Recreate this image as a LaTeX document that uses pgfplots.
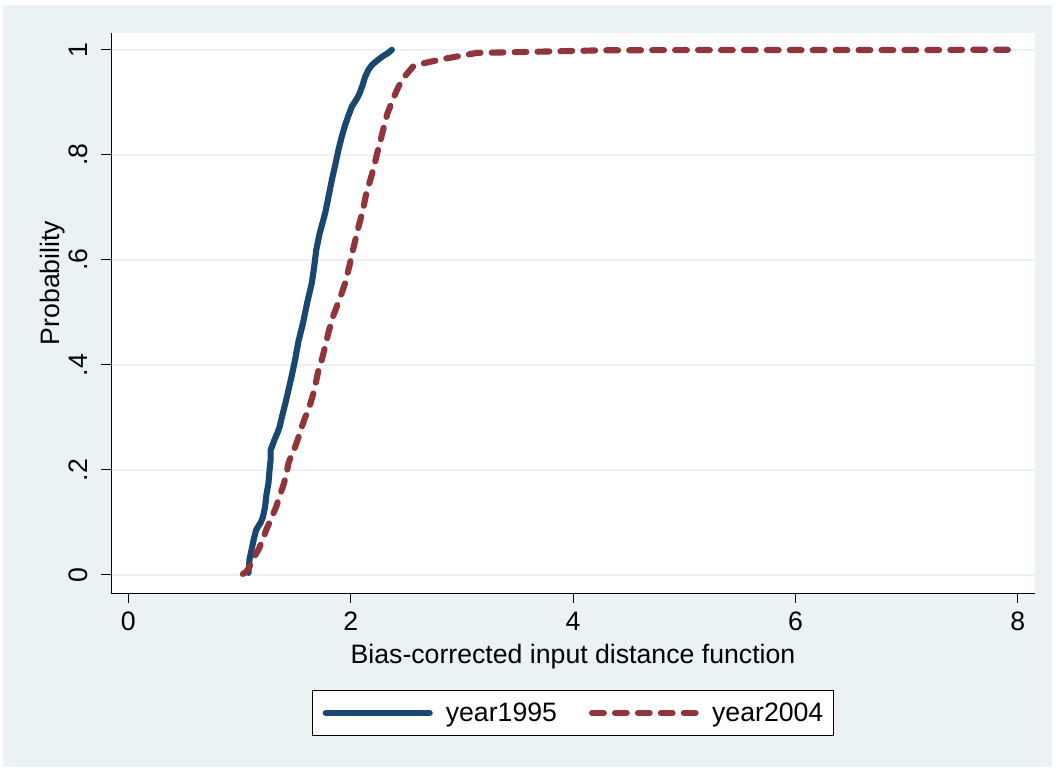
\documentclass[border=0pt]{standalone}
\usepackage{pgfplots}
\pgfplotsset{compat=1.18}
\usepackage{fontspec}
\setmainfont{Liberation Sans}
\definecolor{bgc}{HTML}{EAF2F3}
\definecolor{navyc}{HTML}{1A476F}
\definecolor{maroonc}{HTML}{90353B}
\definecolor{gridc}{HTML}{EAF2F3}
\begin{document}
\begin{tikzpicture}
\useasboundingbox (0,0) rectangle (792pt,578.25pt);
\fill[white] (0,0) rectangle (792pt,578.25pt);
\fill[bgc] (2.25pt,3pt) rectangle (789pt,574.5pt);
\begin{axis}[
  at={(83.25pt,133.5pt)}, anchor=south west,
  scale only axis, width=693pt, height=420pt,
  xmin=-0.156, xmax=8.154, ymin=-0.0343, ymax=1.032,
  axis lines=left, axis line style={-, black, line width=0.75pt},
  axis background/.style={fill=white},
  tick align=outside, major tick length=7.5pt,
  tick style={black, line width=0.75pt},
  xtick={0,2,4,6,8}, xticklabels={0,2,4,6,8},
  ytick={0,0.2,0.4,0.6,0.8,1}, yticklabels={0,.2,.4,.6,.8,1},
  ymajorgrids, major grid style={gridc, line width=1.5pt},
  font=\fontsize{20}{24}\selectfont,
  tick label style={font=\fontsize{20}{24}\selectfont},
  xticklabel style={anchor=base, yshift=-21pt},
  yticklabel style={xshift=-10pt, rotate=90, anchor=base},
  xlabel={Bias-corrected input distance function},
  ylabel={Probability},
  xlabel style={at={(axis description cs:0.5,-0.125)}, anchor=base, font=\fontsize{20}{24}\selectfont},
  ylabel style={at={(axis description cs:-0.056,0.5536)}, anchor=base, font=\fontsize{20}{24}\selectfont},
  legend columns=2,
  legend style={at={(0.5,-0.2143)}, anchor=center, draw=black, line width=0.75pt, fill=white,
    font=\fontsize{20}{24}\selectfont, inner xsep=7.5pt, inner ysep=9pt, nodes={inner sep=0pt},
    /tikz/every even column/.append style={column sep=24pt},
    /tikz/every odd column/.append style={column sep=9.75pt}},
  legend image code/.code={\draw[#1] (0pt,0pt) -- (78pt,0pt);},
]
\addplot[navyc, line width=4.6pt, line cap=round, line join=round] coordinates {
(1.08,0.004) (1.09,0.03) (1.11,0.05) (1.13,0.07) (1.15,0.086) (1.19,0.10)
(1.21,0.11) (1.23,0.13) (1.24,0.15) (1.26,0.175) (1.27,0.20) (1.28,0.22)
(1.28,0.238) (1.31,0.255) (1.34,0.27) (1.36,0.282) (1.38,0.30) (1.41,0.325)
(1.44,0.352) (1.47,0.38) (1.50,0.41) (1.53,0.445) (1.57,0.479) (1.61,0.52)
(1.65,0.556) (1.67,0.585) (1.69,0.619) (1.72,0.65) (1.77,0.689) (1.80,0.72)
(1.83,0.752) (1.86,0.78) (1.89,0.81) (1.92,0.835) (1.95,0.857) (1.98,0.875)
(2.01,0.892) (2.05,0.905) (2.08,0.917) (2.11,0.935) (2.13,0.949) (2.16,0.962)
(2.19,0.971) (2.24,0.98) (2.29,0.988) (2.33,0.993) (2.37,1.0)
};
\addlegendentry{year1995}
\addplot[maroonc, line width=4.6pt, line cap=round, line join=round, dash pattern=on 8.8pt off 8.4pt] coordinates {
(1.03,0.002) (1.06,0.006) (1.08,0.012) (1.12,0.03) (1.17,0.048) (1.21,0.068)
(1.24,0.086) (1.29,0.11) (1.33,0.13) (1.36,0.15) (1.39,0.168) (1.42,0.19)
(1.44,0.213) (1.47,0.23) (1.50,0.244) (1.53,0.262) (1.56,0.282) (1.59,0.30)
(1.62,0.314) (1.67,0.35) (1.71,0.39) (1.74,0.41) (1.77,0.435) (1.80,0.462)
(1.84,0.492) (1.90,0.525) (1.95,0.556) (1.99,0.59) (2.02,0.619) (2.05,0.645)
(2.07,0.663) (2.11,0.695) (2.14,0.727) (2.18,0.755) (2.21,0.778) (2.24,0.805)
(2.27,0.829) (2.30,0.855) (2.33,0.879) (2.36,0.895) (2.39,0.911) (2.43,0.93)
(2.47,0.945) (2.52,0.958) (2.56,0.968) (2.63,0.973) (2.71,0.977) (2.82,0.982)
(2.92,0.986) (3.03,0.99) (3.13,0.994) (3.37,0.995) (3.6,0.996) (3.81,0.997)
(4.26,0.999) (5.0,0.9995) (6.0,0.9995) (7.2,0.9995) (7.6,1.0) (7.97,1.0)
};
\addlegendentry{year2004}
\end{axis}
\end{tikzpicture}
\end{document}
